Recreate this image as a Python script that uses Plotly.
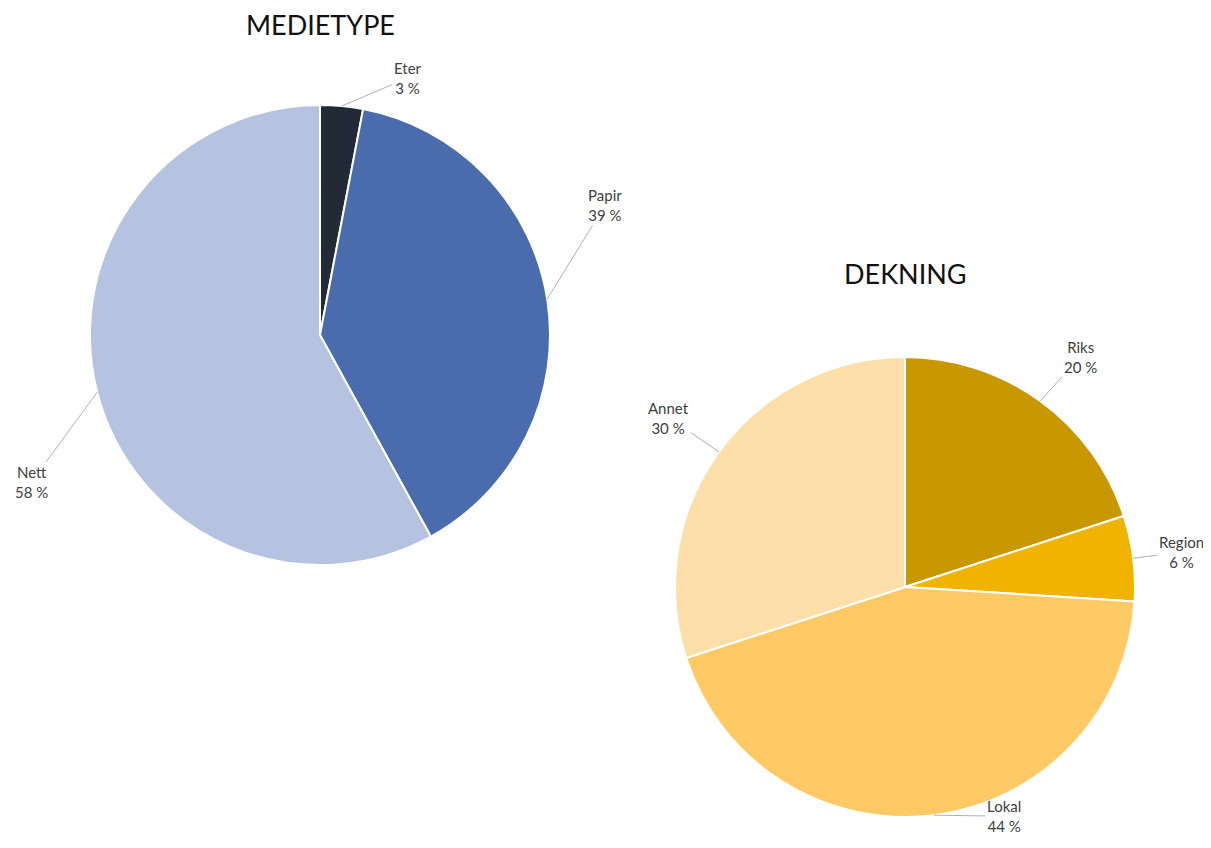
import math
import plotly.graph_objects as go

# Data
medie_labels = ["Eter", "Papir", "Nett"]
medie_values = [3, 39, 58]
medie_colors = ["#222a38", "#4a6cad", "#b5c3e0"]

dekning_labels = ["Riks", "Region", "Lokal", "Annet"]
dekning_values = [20, 6, 44, 30]
dekning_colors = ["#c99700", "#efb300", "#ffc965", "#ffdfa9"]

# page body keeps an 8px margin, so the figure is 16px smaller than the window
PAD = 8
W, H = 1211 - 2 * PAD, 848 - 2 * PAD
FONT = "Lato, Calibri, Arial, sans-serif"

# pie placement in window pixels: centre x, centre y, radius
pies = [
    dict(labels=medie_labels, values=medie_values, colors=medie_colors,
         cx=320, cy=335, r=230, title="MEDIETYPE", tx=320, ty=25,
         offsets=[(66, -28), (58, -94), (-66, 90)]),
    dict(labels=dekning_labels, values=dekning_values, colors=dekning_colors,
         cx=905, cy=587, r=230, title="DEKNING", tx=905, ty=273,
         offsets=[(40, -44), (48, -6), (70, 1), (-50, -34)]),
]


def px(x):
    return (x - PAD) / W


def py(y):
    return 1 - (y - PAD) / H


fig = go.Figure()
annotations = []

for p in pies:
    cx, cy, r = p["cx"], p["cy"], p["r"]
    fig.add_trace(go.Pie(
        labels=p["labels"], values=p["values"],
        marker=dict(colors=p["colors"], line=dict(color="white", width=2)),
        sort=False, direction="clockwise", rotation=0,
        textinfo="none", hoverinfo="label+percent",
        showlegend=False,
        domain=dict(x=[px(cx - r), px(cx + r)],
                    y=[py(cy + r), py(cy - r)]),
    ))

    annotations.append(dict(
        text=p["title"], x=px(p["tx"]), y=py(p["ty"]),
        xref="paper", yref="paper", showarrow=False,
        xanchor="center", yanchor="middle",
        font=dict(family=FONT, size=27, color="#111111"),
    ))

    # labels with leader lines at the middle of each slice
    total = sum(p["values"])
    cum = 0
    for lab, val, (ox, oy) in zip(p["labels"], p["values"], p["offsets"]):
        mid = (cum + val / 2) / total * 2 * math.pi
        cum += val
        ex = cx + r * math.sin(mid)
        ey = cy - r * math.cos(mid)
        annotations.append(dict(
            text=f"{lab}<br>{round(val / total * 100)} %",
            x=px(ex), y=py(ey), xref="paper", yref="paper",
            ax=ox, ay=oy, showarrow=True, arrowhead=0, arrowwidth=1,
            arrowcolor="#b0b0b0", standoff=0,
            font=dict(family=FONT, size=15, color="#404040"),
            align="center",
        ))

fig.update_layout(
    width=W, height=H,
    margin=dict(l=0, r=0, t=0, b=0),
    paper_bgcolor="white", plot_bgcolor="white",
    annotations=annotations,
)

fig.write_html("out.html")
